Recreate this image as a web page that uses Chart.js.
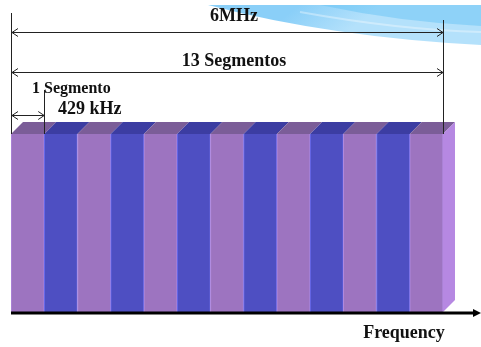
<!DOCTYPE html>
<html>
<head>
<meta charset="utf-8">
<script src="https://cdn.jsdelivr.net/npm/chart.js@4/dist/chart.umd.min.js"></script>
<style>
  html, body { margin: 0; padding: 0; background: #fff; }
  canvas { display: block; }
</style>
</head>
<body>
<canvas id="c" width="481" height="347"></canvas>
<script>
// ISDB-T channel: 13 segments of equal width inside one 6 MHz channel
const segments = ['1', '2', '3', '4', '5', '6', '7', '8', '9', '10', '11', '12', '13'];
const levels = [1, 1, 1, 1, 1, 1, 1, 1, 1, 1, 1, 1, 1];

const channelLabel = '6MHz';
const groupLabel = '13 Segmentos';
const segmentLabel = '1 Segmento';
const segmentWidthLabel = '429 kHz';
const axisLabel = 'Frequency';

// Styling
const FRONT = ['#9d74c0', '#4e4fc2'];
const TOP = ['#7b5d98', '#3c3da2'];
const EDGE = ['#b08ae0', '#6a6cee'];
const SIDE = '#b688e2';
const DEPTH = 12;
const INK = '#222';
const BIG_FONT = 'bold 18px "Liberation Serif", "DejaVu Serif", serif';
const SMALL_FONT = 'bold 16px "Liberation Serif", "DejaVu Serif", serif';

function openArrow(ctx, x1, x2, y) {
  ctx.beginPath();
  ctx.moveTo(x1, y); ctx.lineTo(x2, y);
  ctx.moveTo(x1 + 6, y - 4); ctx.lineTo(x1, y); ctx.lineTo(x1 + 6, y + 4);
  ctx.moveTo(x2 - 6, y - 4); ctx.lineTo(x2, y); ctx.lineTo(x2 - 6, y + 4);
  ctx.stroke();
}

function vline(ctx, x, y1, y2) {
  ctx.beginPath();
  ctx.moveTo(x, y1); ctx.lineTo(x, y2);
  ctx.stroke();
}

const blockPlugin = {
  id: 'block3d',
  beforeDraw(chart) {
    const ctx = chart.ctx;
    ctx.save();
    ctx.fillStyle = '#fff';
    ctx.fillRect(0, 0, chart.width, chart.height);
    // decorative swoosh in the corner
    const g = ctx.createLinearGradient(300, 5, 330, 45);
    g.addColorStop(0, '#8acff8');
    g.addColorStop(1, '#b4e1fb');
    ctx.fillStyle = g;
    ctx.beginPath();
    ctx.moveTo(208, 5);
    ctx.lineTo(481, 5);
    ctx.lineTo(481, 45);
    ctx.quadraticCurveTo(330, 37, 208, 5);
    ctx.fill();
    ctx.fillStyle = 'rgba(95, 192, 245, 0.45)';
    ctx.beginPath();
    ctx.moveTo(320, 5);
    ctx.lineTo(481, 5);
    ctx.lineTo(481, 26);
    ctx.quadraticCurveTo(400, 22, 320, 5);
    ctx.fill();
    ctx.strokeStyle = 'rgba(255, 255, 255, 0.35)';
    ctx.lineWidth = 2;
    ctx.beginPath();
    ctx.moveTo(300, 12);
    ctx.quadraticCurveTo(400, 30, 481, 32);
    ctx.stroke();
    ctx.restore();
  },
  afterDatasetsDraw(chart) {
    const ctx = chart.ctx;
    const xs = chart.scales.x;
    const ys = chart.scales.y;
    const half = (xs.getPixelForValue(1) - xs.getPixelForValue(0)) / 2;
    const base = ys.getPixelForValue(0);
    const n = segments.length;
    const left = xs.getPixelForValue(0) - half;
    const right = xs.getPixelForValue(n - 1) + half;
    const segRight = xs.getPixelForValue(0) + half;
    ctx.save();

    // top faces
    segments.forEach((s, i) => {
      const l = xs.getPixelForValue(i) - half;
      const r = xs.getPixelForValue(i) + half;
      const t = ys.getPixelForValue(levels[i]);
      ctx.fillStyle = TOP[i % 2];
      ctx.beginPath();
      ctx.moveTo(l, t);
      ctx.lineTo(l + DEPTH, t - DEPTH);
      ctx.lineTo(r + DEPTH, t - DEPTH);
      ctx.lineTo(r, t);
      ctx.closePath();
      ctx.fill();
    });

    // right side face of the last segment
    const tLast = ys.getPixelForValue(levels[n - 1]);
    ctx.fillStyle = SIDE;
    ctx.beginPath();
    ctx.moveTo(right, tLast);
    ctx.lineTo(right + DEPTH, tLast - DEPTH);
    ctx.lineTo(right + DEPTH, base - DEPTH);
    ctx.lineTo(right, base);
    ctx.closePath();
    ctx.fill();

    // dimension lines
    const tFirst = ys.getPixelForValue(levels[0]);
    ctx.strokeStyle = INK;
    ctx.lineWidth = 1;
    vline(ctx, Math.round(left) + 0.5, 13, tFirst);
    vline(ctx, Math.round(right) + 0.5, 20, tLast);
    vline(ctx, Math.round(segRight) + 0.5, 90, tFirst);
    openArrow(ctx, left + 1, right, 32.5);
    openArrow(ctx, left + 1, right, 72.5);
    openArrow(ctx, left + 1, segRight, 115.5);

    // labels
    const mid = (left + right) / 2 + 7;
    ctx.fillStyle = '#111';
    ctx.textBaseline = 'middle';
    ctx.textAlign = 'center';
    ctx.font = BIG_FONT;
    ctx.fillText(channelLabel, mid, 16);
    ctx.fillText(groupLabel, mid, 61);
    ctx.textAlign = 'left';
    ctx.font = SMALL_FONT;
    ctx.fillText(segmentLabel, 32, 89);
    ctx.font = BIG_FONT;
    ctx.fillText(segmentWidthLabel, 58, 109);

    // frequency axis
    const ay = base + 1;
    ctx.strokeStyle = '#000';
    ctx.lineWidth = 3;
    ctx.beginPath();
    ctx.moveTo(left, ay);
    ctx.lineTo(chart.width - 6, ay);
    ctx.stroke();
    ctx.fillStyle = '#000';
    ctx.beginPath();
    ctx.moveTo(chart.width, ay);
    ctx.lineTo(chart.width - 8, ay - 4);
    ctx.lineTo(chart.width - 8, ay + 4);
    ctx.closePath();
    ctx.fill();
    ctx.fillStyle = '#111';
    ctx.textAlign = 'center';
    ctx.font = BIG_FONT;
    ctx.fillText(axisLabel, 404, 333);

    ctx.restore();
  }
};

new Chart(document.getElementById('c'), {
  type: 'bar',
  data: {
    labels: segments,
    datasets: [{
      data: levels,
      backgroundColor: segments.map((s, i) => FRONT[i % 2]),
      borderColor: segments.map((s, i) => EDGE[i % 2]),
      borderWidth: { left: 1, right: 1, top: 0, bottom: 0 },
      barPercentage: 1,
      categoryPercentage: 1
    }]
  },
  options: {
    responsive: false,
    animation: false,
    layout: { padding: { left: 11, right: 38, top: 134, bottom: 35 } },
    plugins: { legend: { display: false }, tooltip: { enabled: false } },
    scales: {
      x: { display: false },
      y: { display: false, min: 0, max: 1 }
    }
  },
  plugins: [blockPlugin]
});
</script>
</body>
</html>
